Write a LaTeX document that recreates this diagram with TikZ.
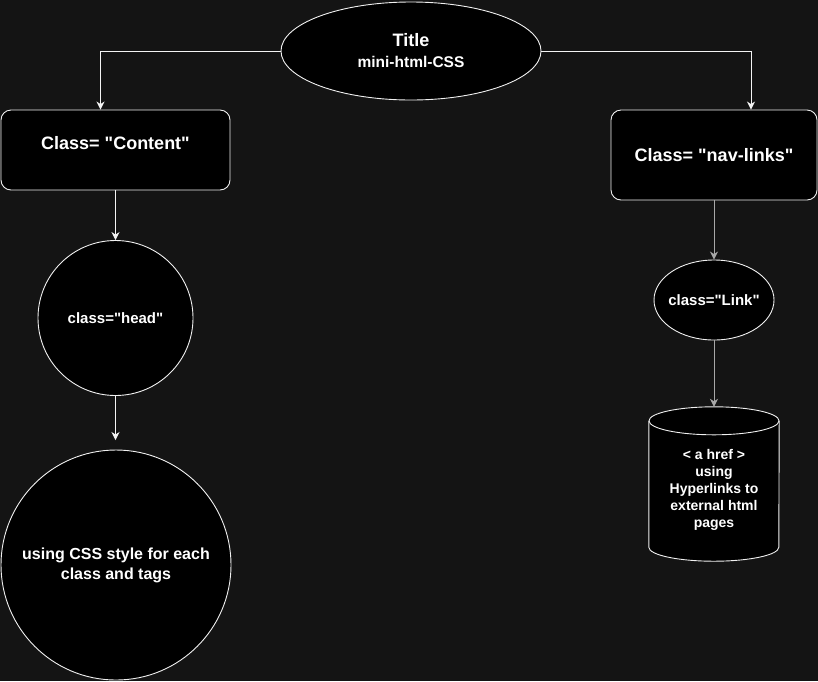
\documentclass[tikz,border=0pt]{standalone}
\usepackage{fontspec}
\setmainfont{Liberation Sans}
\usetikzlibrary{arrows.meta,shapes.geometric}
\definecolor{canvas}{HTML}{141414}
\definecolor{edge}{HTML}{F0F0F0}
\definecolor{wire}{HTML}{F4F4F4}
\definecolor{wiregrey}{HTML}{A8A8A8}
\newcommand{\qq}{\textquotedbl}
\begin{document}
\begin{tikzpicture}[x=1pt,y=-1pt,
  shapebox/.style={draw=edge,fill=black,line width=0.9pt,text=white,font=\bfseries,align=center,inner sep=0pt},
  rbox/.style={shapebox,rectangle,rounded corners=10pt},
  oval/.style={shapebox,ellipse},
  disc/.style={shapebox,circle},
  arr/.style={draw=wire,line width=1pt,-{Stealth[length=8pt,width=8pt,inset=2.5pt]}},
  fs/.style={font=\bfseries\fontsize{#1}{20}\selectfont}]
\useasboundingbox[fill=canvas] (0,0) rectangle (818,681);

% top title
\node[oval,minimum width=260pt,minimum height=98pt,font=\bfseries\fontsize{15.5}{21}\selectfont] (title) at (411,51)
  {{\fontsize{18}{21}\selectfont Title}\\mini-html-CSS};

% left branch
\node[rbox,minimum width=229pt,minimum height=80pt,text depth=15pt,fs=18] (content) at (115.5,150) {Class= \qq Content\qq};
\node[disc,minimum size=155pt,fs=15] (head) at (115.5,318) {class=\qq head\qq};
\coordinate (headtip) at (115.5,440);
\node[disc,minimum size=230pt,fs=16] (css) at (116,565) {using CSS style for each\\class and tags};

% right branch
\node[rbox,minimum width=206pt,minimum height=90pt,fs=18] (nav) at (714,155) {Class= \qq nav-links\qq};
\node[oval,minimum width=120pt,minimum height=80pt,fs=15] (link) at (714,300) {\makebox[0pt]{class=\qq Link\qq}};

% cylinder
\node[minimum width=130pt,minimum height=154pt,inner sep=0pt] (store) at (714,484) {};
\fill[black] ([yshift=-14pt]store.north west) -- ([yshift=14pt]store.south west)
  arc[start angle=180,end angle=0,x radius=65,y radius=14]
  -- ([yshift=-14pt]store.north east) arc[start angle=0,end angle=-180,x radius=65,y radius=14] -- cycle;
\draw[edge,line width=0.9pt] ([yshift=-14pt]store.north west) -- ([yshift=14pt]store.south west)
  arc[start angle=180,end angle=0,x radius=65,y radius=14] -- ([yshift=-14pt]store.north east);
\draw[edge,line width=0.9pt] ([yshift=-14pt]store.north) ellipse[x radius=65,y radius=14];
\node[text=white,align=center,font=\bfseries\fontsize{14}{17}\selectfont] (storetext) at (714,490)
  {< a href >\\using\\Hyperlinks to\\external html\\pages};

% connectors
\draw[arr] (title.west) -| ([xshift=-15pt]content.north);
\draw[arr] (title.east) -| ([xshift=37pt]nav.north);
\draw[arr] (content.south) -- (head.north);
\draw[arr] (head.south) -- (headtip);
\draw[arr,draw=wiregrey] (nav.south) -- (link.north);
\draw[arr,draw=wiregrey] (link.south) -- (store.north);
\end{tikzpicture}
\end{document}
